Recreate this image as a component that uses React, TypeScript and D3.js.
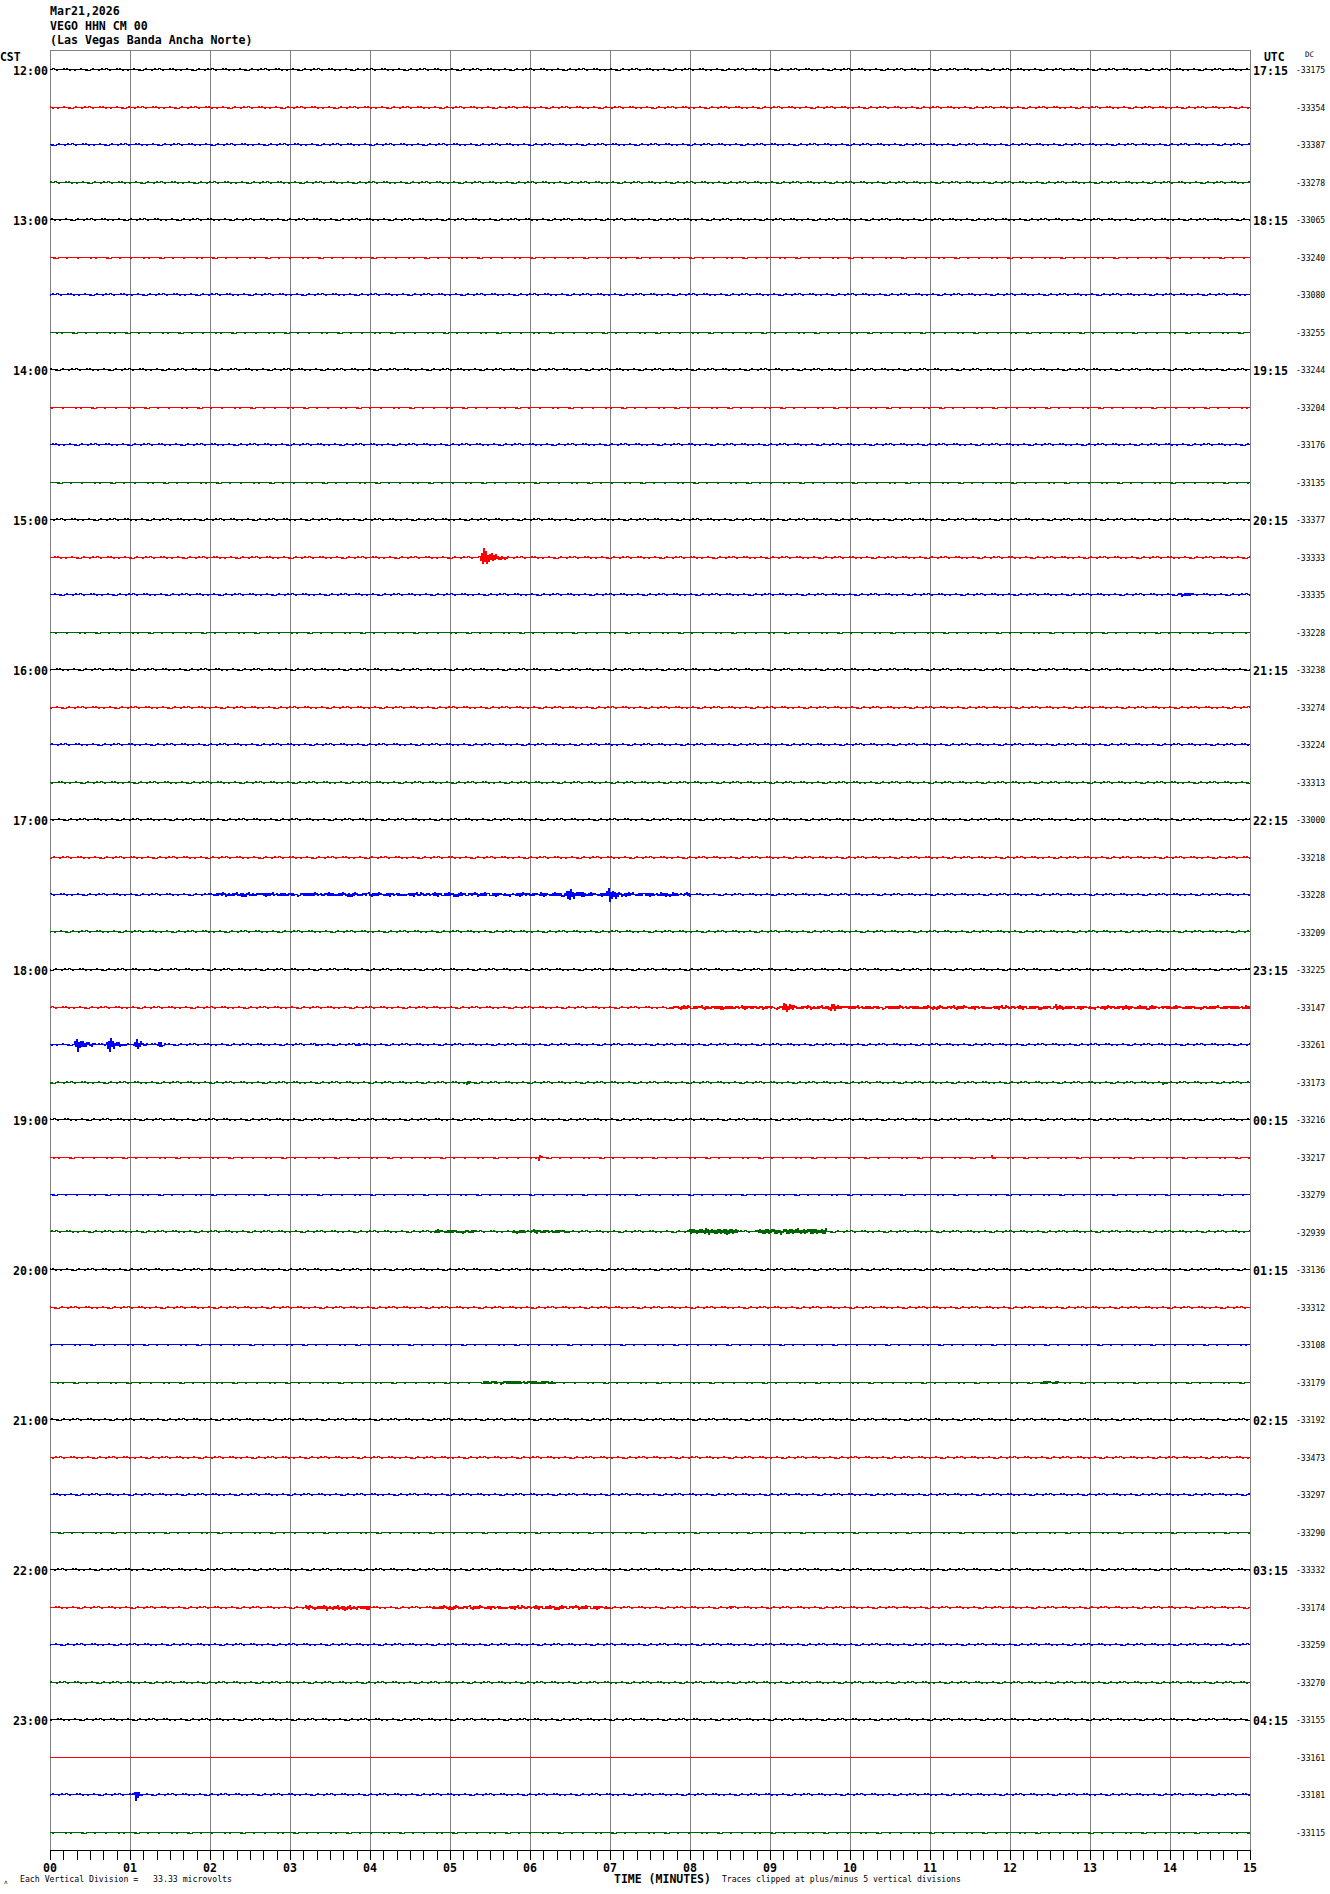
import React from "react";
import * as d3 from "d3";

// ---------- data ----------
const headerLines = ["Mar21,2026", "VEGO HHN CM 00", "(Las Vegas Banda Ancha Norte)"];
const cstLabels = ["12:00","13:00","14:00","15:00","16:00","17:00","18:00","19:00","20:00","21:00","22:00","23:00"];
const utcLabels = ["17:15","18:15","19:15","20:15","21:15","22:15","23:15","00:15","01:15","02:15","03:15","04:15"];
const dcValues = [
  -33175, -33354, -33387, -33278,
  -33065, -33240, -33080, -33255,
  -33244, -33204, -33176, -33135,
  -33377, -33333, -33335, -33228,
  -33238, -33274, -33224, -33313,
  -33000, -33218, -33228, -33209,
  -33225, -33147, -33261, -33173,
  -33216, -33217, -33279, -32939,
  -33136, -33312, -33108, -33179,
  -33192, -33473, -33297, -33290,
  -33332, -33174, -33259, -33270,
  -33155, -33161, -33181, -33115,
];
// background noise level per trace (pixels)
const noiseLevel = [
  1, 0.8, 1, 0.6,
  1, 0.5, 0.8, 0.5,
  0.8, 0.5, 0.8, 0.5,
  0.8, 0.8, 0.8, 0.5,
  1, 0.8, 1, 0.8,
  1, 0.8, 1, 0.6,
  1, 0.8, 1, 0.6,
  0.8, 0.5, 0.5, 0.6,
  0.8, 0.8, 0.5, 0.5,
  0.8, 0.8, 0.8, 0.5,
  1, 1, 1, 0.6,
  1, 0.3, 1, 0.5,
];
// [trace index, start minute, end minute, amplitude px, kind: b=burst n=noise band]
const events: [number, number, number, number, string][] = [
  [13, 5.37, 5.75, 9, "b"],
  [14, 14.1, 14.4, 2, "b"],
  [22, 2.0, 8.0, 1, "n"],
  [22, 6.45, 6.75, 5, "b"],
  [22, 6.95, 7.2, 7, "b"],
  [25, 7.7, 15.0, 1, "n"],
  [25, 9.15, 9.35, 4, "b"],
  [25, 9.75, 9.95, 3, "b"],
  [25, 12.55, 12.7, 2, "b"],
  [25, 13.4, 13.5, 2, "b"],
  [26, 0.3, 0.6, 7, "b"],
  [26, 0.7, 1.0, 7, "b"],
  [26, 1.05, 1.25, 6, "b"],
  [26, 1.35, 1.5, 4, "b"],
  [26, 3.3, 3.45, 2, "b"],
  [26, 3.8, 3.95, 2, "b"],
  [27, 5.2, 5.3, 2, "b"],
  [27, 13.9, 14.0, 2, "b"],
  [29, 6.1, 6.18, 3, "b"],
  [29, 11.75, 11.85, 2, "b"],
  [31, 4.8, 5.3, 1, "n"],
  [31, 5.8, 6.5, 1, "n"],
  [31, 8.0, 8.6, 2, "n"],
  [31, 8.85, 9.7, 2, "n"],
  [35, 5.4, 6.3, 1, "n"],
  [35, 12.4, 12.6, 1, "n"],
  [41, 3.2, 4.0, 1.5, "n"],
  [41, 4.8, 7.0, 1, "n"],
  [41, 8.5, 8.6, 2, "b"],
  [46, 1.05, 1.22, 5, "b"],
];
const minuteTicks = d3.range(0, 16);
const minuteLabels = minuteTicks.map((m) => String(m).padStart(2, "0"));

// ---------- style ----------
const traceColors = ["#000000", "#ff0000", "#0000ff", "#006400"];
const JITTER = [0,1,0,0,0,-1,0,0,1,0,0,0,0,-1,0,1,1,0,0,0,0,-1,0,0,0,1,0,0,-1,0,0,0,0,0,1,0,-1,0,0,0,1,0,0,0,0,-1,-1,0,0,1,0,0,0];
const ALT = [1,-0.6,0.9,-1,0.4,-0.8,1,-0.3,0.7,-0.9,0.5,-1];
const MONO = "'DejaVu Sans Mono', 'Liberation Mono', monospace";

const W = 1330, H = 1894;
const x = d3.scaleLinear().domain([0, 15]).range([50, 1250]);
const row = d3.scaleLinear().domain([0, 47]).range([69, 1831.5]);

function tracePath(ti: number): string {
  const base = Math.round(row(ti)) + 0.5;
  const lvl = noiseLevel[ti];
  const evs = events.filter((e) => e[0] === ti);
  const n = 1200;
  const pts: [number, number][] = [];
  for (let i = 0; i <= n; i++) {
    const m = x.invert(50 + i);
    let off = JITTER[(i * 7 + ti * 13) % JITTER.length] * lvl;
    for (const [, s, e, a, k] of evs) {
      if (m >= s && m <= e) {
        const t = (m - s) / (e - s);
        const env = k === "b" ? (t < 0.15 ? t / 0.15 : Math.exp(-(t - 0.15) * 3.5)) : 1;
        off += a * env * ALT[(i + ti) % ALT.length];
      }
    }
    pts.push([x(m), base + Math.round(off)]);
  }
  return d3.line().curve(d3.curveStep)(pts) || "";
}

export default function App() {
  const traces = d3.range(48);
  const tickMinor = d3.range(0, 15 + 1e-9, 1 / 6);
  return (
    <svg width={W} height={H} style={{ position: "absolute", left: 0, top: 0, display: "block", background: "#fff" }}
      xmlns="http://www.w3.org/2000/svg">
      <rect x={0} y={0} width={W} height={H} fill="#fff" />
      {/* header */}
      {headerLines.map((t, i) => (
        <text key={t} x={50} y={15 + i * 14.5} fontFamily={MONO} fontWeight="bold" fontSize={11.6} fill="#000">{t}</text>
      ))}
      <text x={0} y={61} fontFamily={MONO} fontWeight="bold" fontSize={11.4} fill="#000">CST</text>
      <text x={1264} y={61} fontFamily={MONO} fontWeight="bold" fontSize={11.4} fill="#000">UTC</text>
      <text x={1305} y={57} fontFamily={MONO} fontSize={7.5} fill="#000">DC</text>

      {/* frame & grid */}
      <line x1={50} x2={1251} y1={50.5} y2={50.5} stroke="#808080" strokeWidth={1} shapeRendering="crispEdges" />
      {minuteTicks.map((m) => (
        <line key={"g" + m} x1={Math.round(x(m)) + 0.5} x2={Math.round(x(m)) + 0.5} y1={50} y2={1850}
          stroke="#808080" strokeWidth={1} shapeRendering="crispEdges" />
      ))}

      {/* traces */}
      {traces.map((ti) => (
        <path key={"t" + ti} d={tracePath(ti)} fill="none" stroke={traceColors[ti % 4]} strokeWidth={1}
          shapeRendering="crispEdges" />
      ))}

      {/* hour labels */}
      {cstLabels.map((l, h) => (
        <text key={"c" + l} x={48} y={row(h * 4) + 6} textAnchor="end" fontFamily={MONO} fontWeight="bold"
          fontSize={11.6} fill="#000">{l}</text>
      ))}
      {utcLabels.map((l, h) => (
        <text key={"u" + l} x={1253} y={row(h * 4) + 6} fontFamily={MONO} fontWeight="bold"
          fontSize={11.6} fill="#000">{l}</text>
      ))}
      {dcValues.map((v, i) => (
        <text key={"d" + i} x={1296} y={row(i) + 4} fontFamily={MONO} fontSize={8.1} fill="#000">{String(v)}</text>
      ))}

      {/* bottom axis */}
      <line x1={50} x2={1251} y1={1850.5} y2={1850.5} stroke="#000" strokeWidth={1} shapeRendering="crispEdges" />
      {tickMinor.map((m, i) => (
        <line key={"k" + i} x1={Math.round(x(m)) + 0.5} x2={Math.round(x(m)) + 0.5} y1={1850} y2={1860}
          stroke="#000" strokeWidth={1} shapeRendering="crispEdges" />
      ))}
      {minuteTicks.map((m, i) => (
        <text key={"l" + m} x={x(m)} y={1872} textAnchor="middle" fontFamily={MONO} fontWeight="bold"
          fontSize={11.6} fill="#000">{minuteLabels[i]}</text>
      ))}
      <text x={4} y={1884} fontFamily={MONO} fontSize={6} fill="#000">ʌ</text>
      <text x={20} y={1882} fontFamily={MONO} fontSize={8.2} fill="#000" xmlSpace="preserve">{"Each Vertical Division =   33.33 microvolts"}</text>
      <text x={614} y={1883} fontFamily={MONO} fontWeight="bold" fontSize={11.5} fill="#000">TIME (MINUTES)</text>
      <text x={722} y={1882} fontFamily={MONO} fontSize={8.1} fill="#000">Traces clipped at plus/minus 5 vertical divisions</text>
    </svg>
  );
}
